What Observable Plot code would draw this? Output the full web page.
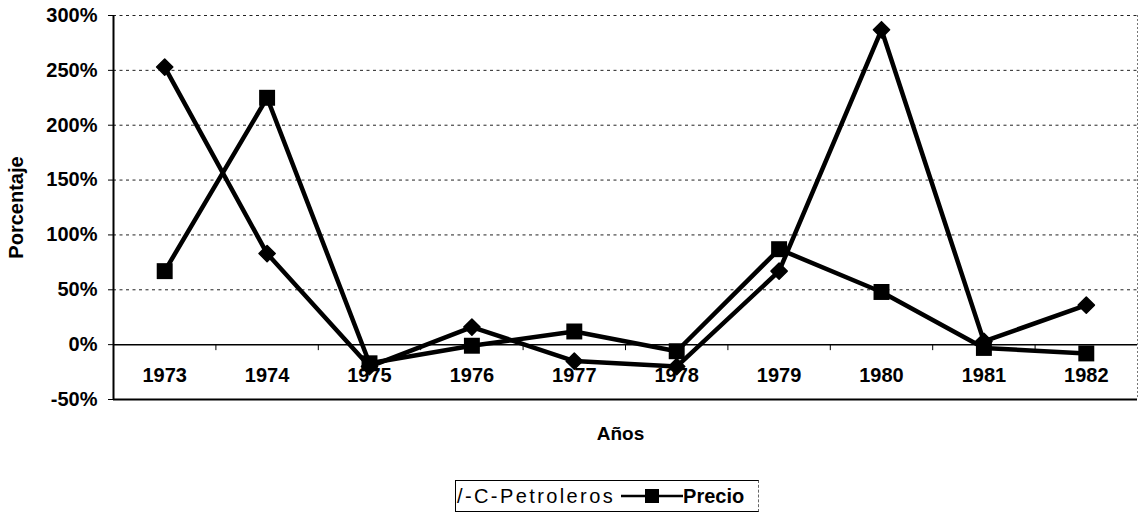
<!DOCTYPE html>
<html>
<head>
<meta charset="utf-8">
<script src="https://cdn.jsdelivr.net/npm/d3@7"></script>
<script src="https://cdn.jsdelivr.net/npm/@observablehq/plot@0.6"></script>
<style>
  html, body { margin: 0; padding: 0; background: #fff; }
  body { font-family: "Liberation Sans", Arial, sans-serif; }
  #wrap { position: relative; width: 1143px; height: 515px; }
  #legend {
    position: absolute; left: 455px; top: 480px; width: 304px; height: 32px;
    border-left: 1px solid #000; border-top: 1px solid #000; border-bottom: 1px solid #000;
    border-right: 1px dashed #666;
    display: flex; align-items: center; box-sizing: border-box;
    font-family: "Liberation Sans", Arial, sans-serif; color: #000;
  }
  #legend .l1 { font-size: 20px; letter-spacing: 2.4px; margin-left: 1px; }
  #legend .l2 { font-size: 20px; font-weight: bold; }
  #legend svg { margin-left: 6px; }
</style>
</head>
<body>
<div id="wrap"></div>
<script>
const years = [1973, 1974, 1975, 1976, 1977, 1978, 1979, 1980, 1981, 1982];
const petroleros = [2.53, 0.83, -0.20, 0.16, -0.15, -0.20, 0.67, 2.87, 0.03, 0.36];
const precio = [0.67, 2.25, -0.17, -0.01, 0.12, -0.06, 0.87, 0.48, -0.03, -0.08];
const yTicks = [-0.5, 0, 0.5, 1, 1.5, 2, 2.5, 3];
const gridTicks = [0.5, 1, 1.5, 2, 2.5, 3];
const legendLabels = ["/-C-Petroleros", "Precio"];
const xTitle = "Años";
const yTitle = "Porcentaje";

const rowsP = years.map((y, i) => ({year: y, value: petroleros[i]}));
const rowsQ = years.map((y, i) => ({year: y, value: precio[i]}));
const xMin = d3.min(years) - 0.5, xMax = d3.max(years) + 0.5;
const bounds = years.slice(1).map(y => y - 0.5);

const font = "'Liberation Sans', Arial, sans-serif";

const chart = Plot.plot({
  width: 1143,
  height: 470,
  marginLeft: 113,
  marginRight: 6,
  marginTop: 15,
  marginBottom: 71,
  style: {fontFamily: font, color: "#000", background: "#fff"},
  x: {type: "linear", domain: [xMin, xMax]},
  y: {type: "linear", domain: [d3.min(yTicks), d3.max(yTicks)]},
  marks: [
    Plot.ruleY(gridTicks, {stroke: "#222", strokeDasharray: "3,3.5", strokeWidth: 1}),
    Plot.ruleX([xMax], {stroke: "#777", strokeDasharray: "2,2", strokeWidth: 1}),
    Plot.ruleY([0], {stroke: "#000", strokeWidth: 1.5}),
    Plot.ruleX(bounds, {y1: 0, y2: 0, insetBottom: -6, stroke: "#000", strokeWidth: 1}),
    Plot.axisY({ticks: yTicks, tickFormat: d => Math.round(d * 100) + "%", tickSize: 5, tickPadding: 11,
      fontSize: 20, fontWeight: "bold", label: null, stroke: "#000"}),
    Plot.axisX({ticks: years, tickFormat: d => String(d), tickSize: 0, tickPadding: 0, dy: -32,
      fontSize: 20, fontWeight: "bold", label: null}),
    Plot.ruleY([d3.min(yTicks)], {stroke: "#000", strokeWidth: 2}),
    Plot.ruleX([xMin], {stroke: "#000", strokeWidth: 2}),
    Plot.line(rowsP, {x: "year", y: "value", stroke: "#000", strokeWidth: 4.5, strokeLinejoin: "round"}),
    Plot.line(rowsQ, {x: "year", y: "value", stroke: "#000", strokeWidth: 4.5, strokeLinejoin: "round"}),
    Plot.dot(rowsP, {x: "year", y: "value", symbol: "diamond2", r: 7.3, fill: "#000", stroke: "#000", strokeWidth: 1.5, strokeLinejoin: "round"}),
    Plot.dot(rowsQ, {x: "year", y: "value", symbol: "square", r: 9, fill: "#000", stroke: "none"}),
    Plot.text([yTitle], {frameAnchor: "left", rotate: -90, dx: -97, textAnchor: "middle", lineAnchor: "middle",
      fontSize: 20, fontWeight: "bold"}),
    Plot.text([xTitle], {frameAnchor: "bottom", dy: 34, dx: -5, textAnchor: "middle", lineAnchor: "middle",
      fontSize: 19, fontWeight: "bold"})
  ]
});

const wrap = document.getElementById("wrap");
wrap.appendChild(chart);

const legend = document.createElement("div");
legend.id = "legend";
legend.innerHTML = `<span class="l1">${legendLabels[0]}</span>` +
  `<svg width="62" height="20" viewBox="0 0 62 20"><line x1="0" y1="10" x2="62" y2="10" stroke="#000" stroke-width="2.5"/><rect x="24" y="3" width="14" height="14" fill="#000"/></svg>` +
  `<span class="l2">${legendLabels[1]}</span>`;
wrap.appendChild(legend);
</script>
</body>
</html>
